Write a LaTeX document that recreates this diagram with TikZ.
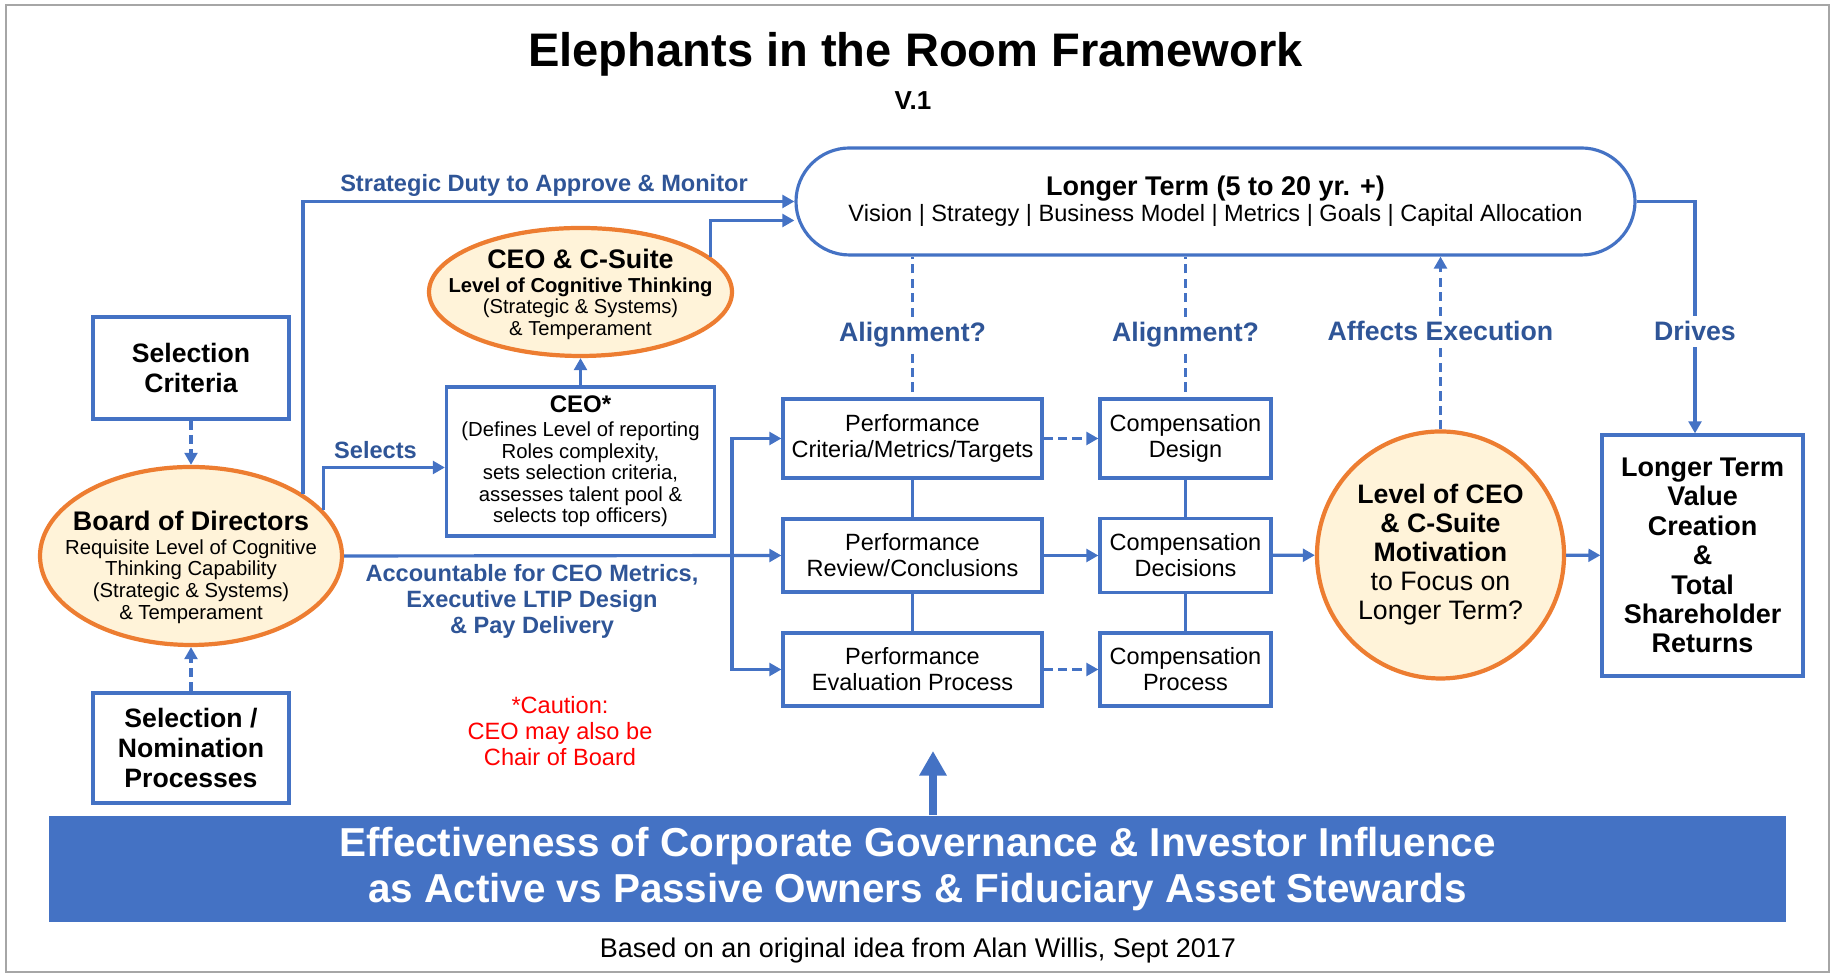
\documentclass[tikz,border=0pt]{standalone}
\usepackage{fontspec}
\setmainfont{Liberation Sans}
\usepackage{tikz}
\usetikzlibrary{calc,positioning,shapes,arrows.meta}

\definecolor{lineblue}{HTML}{4472C4}
\definecolor{textblue}{HTML}{2F5597}
\definecolor{ringorange}{HTML}{ED7D31}
\definecolor{cream}{HTML}{FFF3D9}
\definecolor{framegray}{HTML}{A6A6A6}
\newcommand{\fsz}[2]{\fontsize{#1}{#2}\selectfont}

\begin{document}
\begin{tikzpicture}[
  box/.style={draw=lineblue, line width=0.9pt, inner sep=2pt, align=center},
  ring/.style={draw=ringorange, fill=cream, line width=1.2pt, inner sep=0pt},
  link/.style={draw=lineblue, line width=0.9pt},
  conn/.style={link, -{Triangle[length=3.4pt,width=3.6pt]}},
  dashlink/.style={link, dash pattern=on 2.6pt off 1.5pt},
  dashconn/.style={conn, dash pattern=on 2.6pt off 1.5pt},
  tag/.style={text=textblue, font=\fsz{7.6}{8.4}\bfseries, inner sep=1.5pt},
  smalltag/.style={text=textblue, font=\fsz{6.71}{7.4}\bfseries, align=center, inner sep=1.5pt}
]
  \useasboundingbox (0,0) rectangle (18.33,9.74);
  \draw[framegray, line width=0.6pt] (0.06,0.02) rectangle (18.29,9.69);

  \node [font=\fsz{13.4}{15}\bfseries, anchor=base] (title) at (9.155,9.07) {Elephants in the Room Framework};
  \node [font=\fsz{7.4}{8}\bfseries, anchor=base] (version) at (9.13,8.64) {V.1};

  \node [box, rounded corners=5.35mm, minimum width=8.39cm, minimum height=1.07cm, font=\fsz{6.71}{7.4}] (longterm) at (12.155,7.725)
    {{\fsz{7.68}{8}\bfseries Longer Term (5 to 20 yr. +)}\\Vision | Strategy | Business Model | Metrics | Goals | Capital Allocation};

  \node [box, minimum width=1.96cm, minimum height=1.02cm, font=\fsz{7.57}{8.4}\bfseries] (selcrit) at (1.91,6.06) {Selection\\Criteria};
  \node [ellipse, ring, minimum width=3.02cm, minimum height=1.78cm] (board) at (1.91,4.18) {};
  \node [align=center, font=\fsz{5.78}{6.17}, inner sep=0pt] (boardtxt) at (1.91,4.07)
    {{\fsz{7.65}{8}\bfseries Board of Directors}\\[0.66pt]Requisite Level of Cognitive\\Thinking Capability\\(Strategic \& Systems)\\\& Temperament};
  \node [box, minimum width=1.96cm, minimum height=1.10cm, font=\fsz{7.57}{8.4}\bfseries] (selnom) at (1.91,2.26) {Selection /\\Nomination\\Processes};

  \node [ellipse, ring, minimum width=3.03cm, minimum height=1.28cm] (csuite) at (5.805,6.82) {};
  \node [align=center, font=\fsz{5.75}{6.12}, inner sep=0pt] (csuitetxt) at (5.805,6.80)
    {{\fsz{7.63}{8}\bfseries CEO \& C-Suite}\\[0.7pt]\textbf{Level of Cognitive Thinking}\\(Strategic \& Systems)\\\& Temperament};
  \node [box, minimum width=2.68cm, minimum height=1.49cm, font=\fsz{5.78}{6.12}] (ceo) at (5.805,5.125)
    {{\fsz{6.83}{7}\bfseries CEO*}\\[0.7pt](Defines Level of reporting\\Roles complexity,\\sets selection criteria,\\assesses talent pool \&\\selects top officers)};

  \node [box, minimum width=2.59cm, minimum height=0.79cm, font=\fsz{6.69}{7.4}] (pcrit) at (9.125,5.355) {Performance\\Criteria/Metrics/Targets};
  \node [box, minimum width=2.59cm, minimum height=0.73cm, font=\fsz{6.69}{7.4}] (prev) at (9.125,4.185) {Performance\\Review/Conclusions};
  \node [box, minimum width=2.59cm, minimum height=0.73cm, font=\fsz{6.69}{7.4}] (peval) at (9.125,3.045) {Performance\\Evaluation Process};
  \node [box, minimum width=1.71cm, minimum height=0.79cm, font=\fsz{6.69}{7.4}] (cdes) at (11.855,5.355) {Compensation\\Design};
  \node [box, minimum width=1.71cm, minimum height=0.74cm, font=\fsz{6.69}{7.4}] (cdec) at (11.855,4.185) {Compensation\\Decisions};
  \node [box, minimum width=1.71cm, minimum height=0.73cm, font=\fsz{6.69}{7.4}] (cproc) at (11.855,3.045) {Compensation\\Process};

  \node [circle, ring, minimum size=2.47cm, align=center, font=\fsz{7.6}{8.25}] (motiv) at (14.405,4.19)
    {\textbf{Level of CEO}\\\textbf{\& C-Suite}\\\textbf{Motivation}\\to Focus on\\Longer Term?};
  \node [box, minimum width=2.01cm, minimum height=2.41cm, font=\fsz{7.68}{8.37}\bfseries] (value) at (17.025,4.185)
    {Longer Term\\Value\\Creation\\\&\\Total\\Shareholder\\Returns};

  \node [fill=lineblue, minimum width=17.37cm, minimum height=1.06cm, inner sep=0pt, align=center, text=white, font=\fsz{11.5}{13.1}\bfseries] (banner) at (9.175,1.05)
    {Effectiveness of Corporate Governance \& Investor Influence\\as Active vs Passive Owners \& Fiduciary Asset Stewards};
  \node [font=\fsz{7.68}{8}, anchor=base] (credit) at (9.18,0.16) {Based on an original idea from Alan Willis, Sept 2017};

  \node [smalltag, anchor=base] (strat) at (5.44,7.82) {Strategic Duty to Approve \& Monitor};
  \node [smalltag, anchor=base] (sel) at (3.755,5.15) {Selects};
  \node [smalltag] (acct) at (5.32,3.73) {Accountable for CEO Metrics,\\Executive LTIP Design\\\& Pay Delivery};
  \node [align=center, text=red, font=\fsz{6.71}{7.4}] (caution) at (5.60,2.43) {*Caution:\\CEO may also be\\Chair of Board};
  \node [tag, anchor=base] (al1) at (9.125,6.32) {Alignment?};
  \node [tag, anchor=base] (al2) at (11.855,6.32) {Alignment?};
  \node [tag, anchor=base] (aff) at (14.405,6.33) {Affects Execution};
  \node [tag, anchor=base] (drv) at (16.95,6.33) {Drives};

  \coordinate (fork) at (7.32,4.185);
  \coordinate (uptip) at (9.33,2.23);

  \draw[conn] (board.29) |- (longterm.west);
  \draw[conn] (board.19) |- ([yshift=-0.6mm]ceo.west);
  \draw[conn] (board.east) -- (prev.west);
  \draw[conn] (fork) |- (pcrit.west);
  \draw[conn] (fork) |- (peval.west);
  \draw[conn] (csuite.15) |- ([yshift=-1.9mm]longterm.west);
  \draw[conn] (ceo) -- (csuite);
  \draw[dashconn] (selcrit) -- (board);
  \draw[dashconn] (selnom) -- (board);
  \draw[dashlink] (al1) -- (al1 |- longterm.south);
  \draw[dashlink] (al1) -- (al1 |- pcrit.north);
  \draw[dashlink] (al2) -- (al2 |- longterm.south);
  \draw[dashlink] (al2) -- (al2 |- cdes.north);
  \draw[dashconn] (pcrit) -- (cdes);
  \draw[conn] (prev) -- (cdec);
  \draw[dashconn] (peval) -- (cproc);
  \draw[link] (pcrit) -- (prev);
  \draw[link] (prev) -- (peval);
  \draw[link] (cdes) -- (cdec);
  \draw[link] (cdec) -- (cproc);
  \draw[conn] (cdec) -- (motiv);
  \draw[conn] (motiv) -- (value);
  \draw[dashlink] (motiv) -- (aff);
  \draw[dashconn] (aff) -- (aff |- longterm.south);
  \draw[link] (longterm.east) -| (drv);
  \draw[conn] (drv) -- (drv |- value.north);
  \draw[lineblue, line width=2.3pt, -{Triangle[length=7pt,width=7.4pt]}] (uptip |- banner.north) -- (uptip);
\end{tikzpicture}
\end{document}
